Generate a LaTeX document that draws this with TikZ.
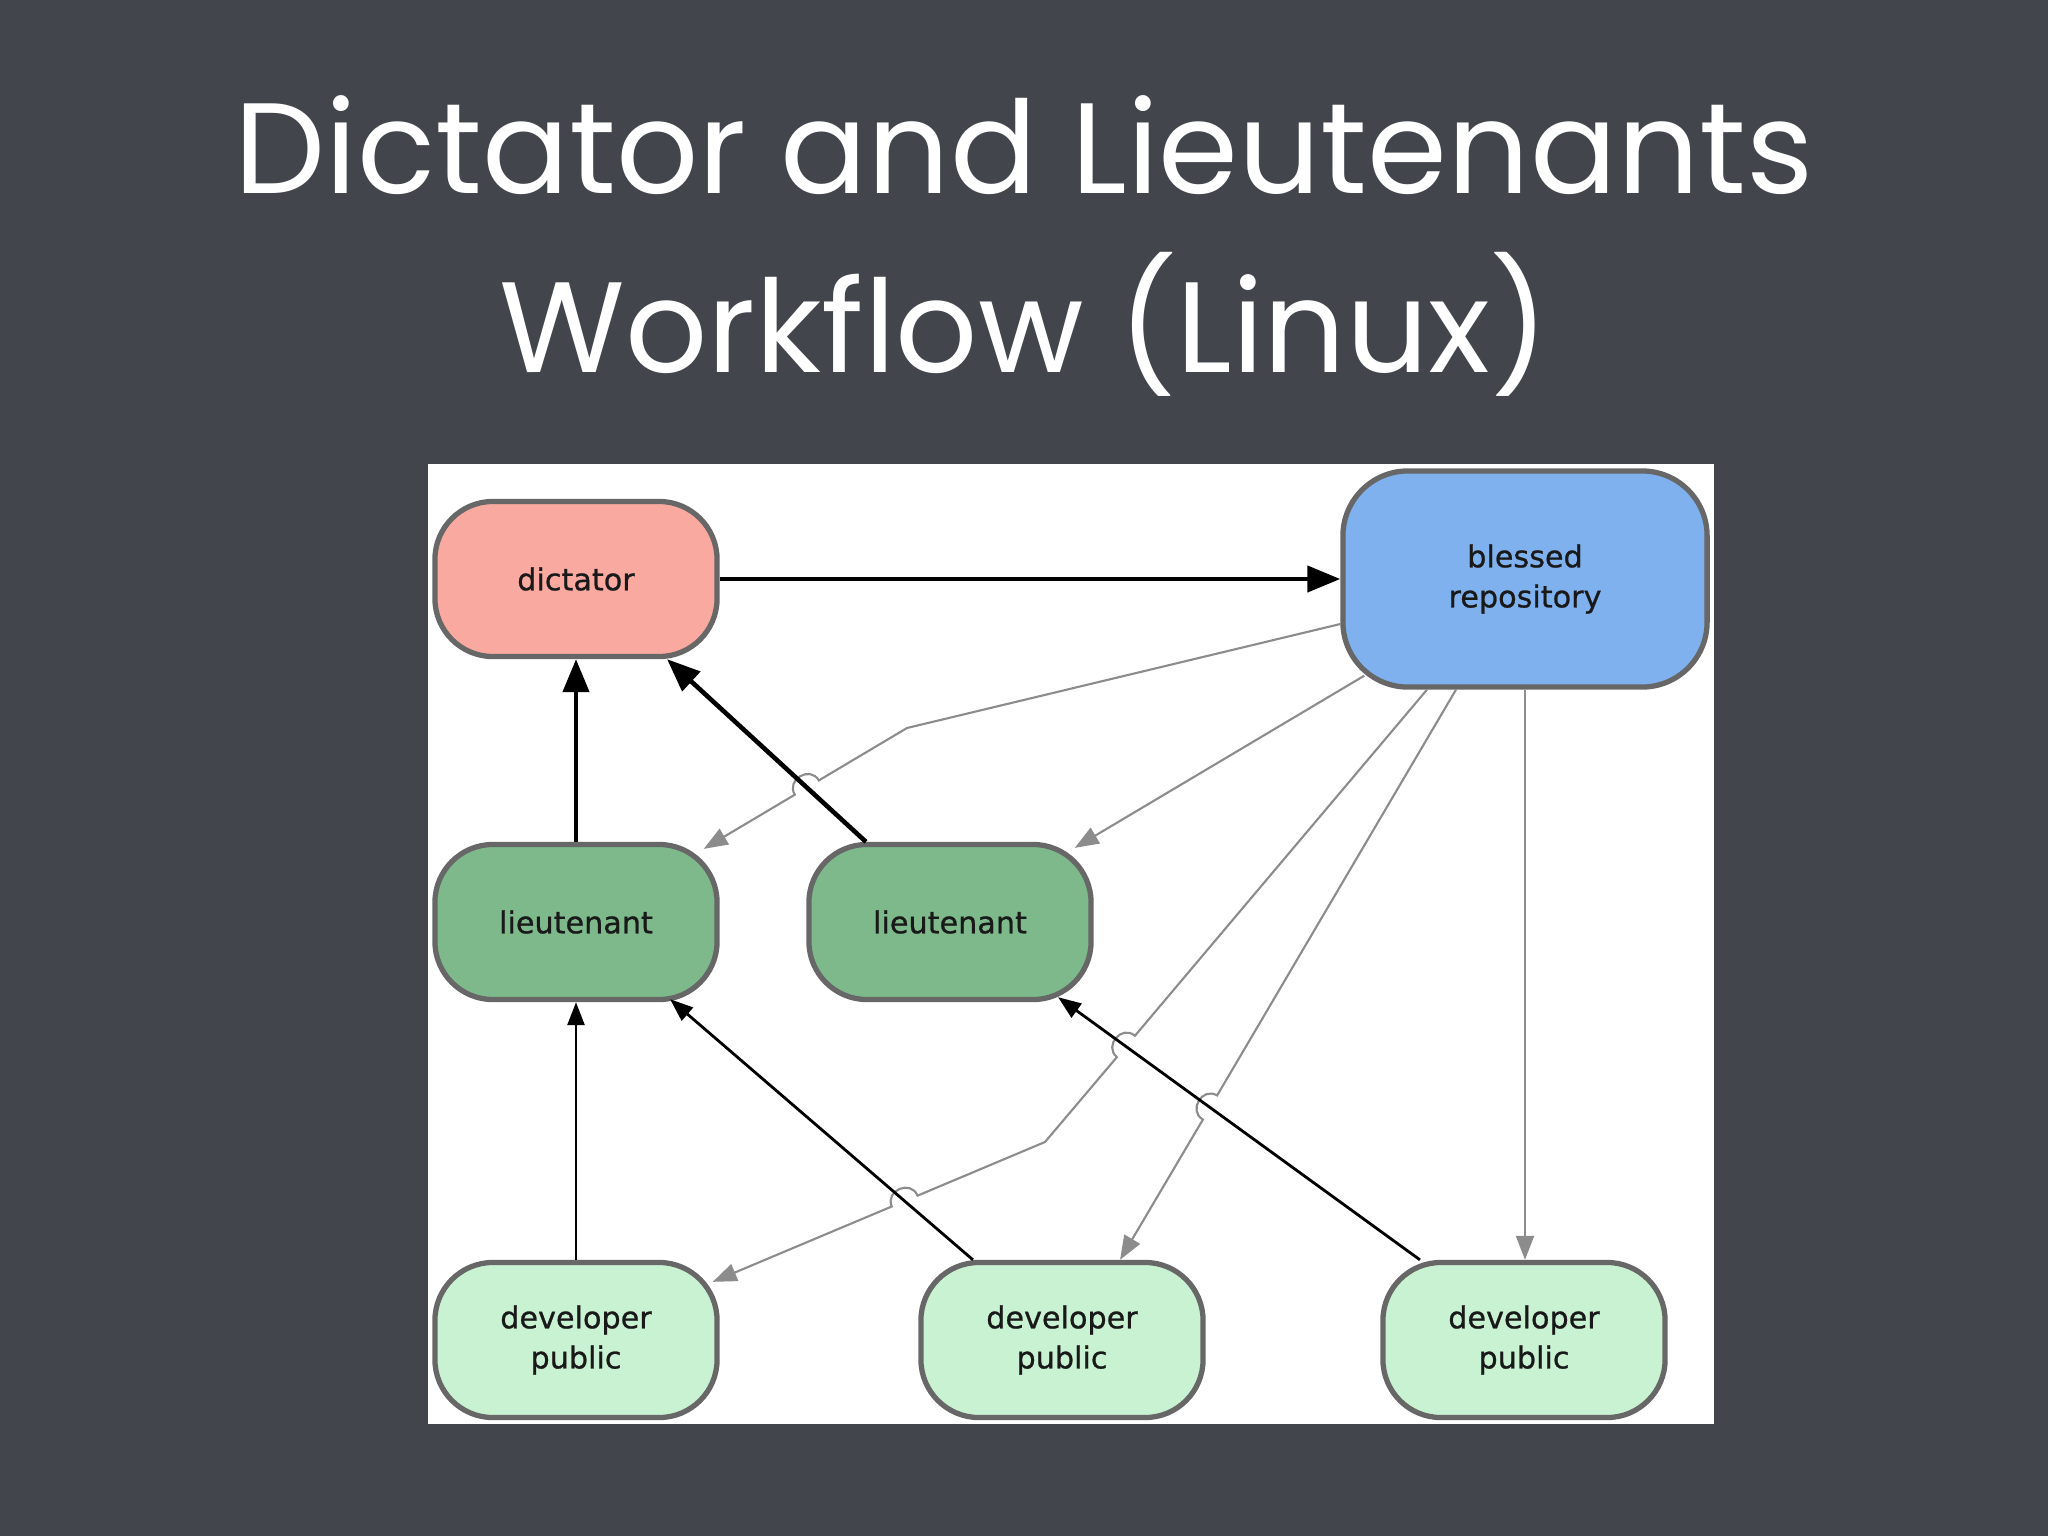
\documentclass[tikz,border=0pt]{standalone}
\usepackage{fontspec}
\setmainfont{DejaVu Sans}
\newfontfamily\repofont[FakeBold=0.8]{DejaVu Sans}
\newfontfamily\chalkfont{Poppins}
\usetikzlibrary{calc,arrows.meta}

\definecolor{board}{HTML}{42454C}
\definecolor{dictfill}{HTML}{F9A99F}
\definecolor{blessfill}{HTML}{7FB1EE}
\definecolor{ltfill}{HTML}{7DB98B}
\definecolor{devfill}{HTML}{C9F2D3}
\definecolor{rim}{HTML}{676767}
\definecolor{thread}{HTML}{8C8C8C}

\tikzset{
  repo/.style={draw=rim, line width=1.5pt, rounded corners=0.58cm,
    minimum width=2.82cm, minimum height=1.55cm, align=center,
    font=\repofont\fontsize{8.6}{11.4}\selectfont, text=black!90},
  push/.style={line width=1.3pt, -{Triangle[length=0.33cm,width=0.26cm]}},
  pull/.style={line width=0.8pt, -{Triangle[length=0.23cm,width=0.17cm]}},
  fetch/.style={draw=thread, line width=0.6pt,
    -{Triangle[length=0.24cm,width=0.18cm]}},
  hop/.style={bend right=90, looseness=1.6},
  slidetitle/.style={text=white, anchor=base, font=\chalkfont\fontsize{36.6}{40}\selectfont},
}

\begin{document}
\begin{tikzpicture}[x=0.01cm, y=-0.01cm]
  \useasboundingbox (0,0) rectangle (2048,1536);
  \fill[board] (0,0) rectangle (2048,1536);
  \fill[white] (428,464) rectangle (1714,1424);

  %title
  \node[slidetitle] (title1) at (1024,193) {Dictator and Lieutenants};
  \node[slidetitle] (title2) at (1024,372) {Workflow (Linux)};

  %repositories
  \node[repo, fill=dictfill] (dict) at (576,579) {dictator};
  \node[repo, fill=blessfill, minimum width=3.64cm, minimum height=2.16cm,
    rounded corners=0.65cm] (bless) at (1525,579) {blessed\\repository};
  \node[repo, fill=ltfill] (lt1) at (576,922) {lieutenant};
  \node[repo, fill=ltfill] (lt2) at (950,922) {lieutenant};
  \node[repo, fill=devfill] (dev1) at (576,1340) {developer\\public};
  \node[repo, fill=devfill] (dev2) at (1062,1340) {developer\\public};
  \node[repo, fill=devfill] (dev3) at (1524,1340) {developer\\public};

  %ends of the black lines
  \coordinate (lt2Top) at ([xshift=-0.84cm]lt2.north);
  \coordinate (dictFoot) at ([xshift=0.91cm]dict.south);
  \coordinate (dev2Top) at ([xshift=-0.89cm]dev2.north);
  \coordinate (lt1Foot) at ([xshift=0.94cm,yshift=0.03cm]lt1.south);
  \coordinate (dev3Top) at ([xshift=-1.04cm]dev3.north);
  \coordinate (lt2Foot) at ([xshift=1.08cm,yshift=0.05cm]lt2.south);

  %ends of the grey lines
  \coordinate (blessW) at ([yshift=-0.45cm]bless.west);
  \coordinate (kink1) at (907,728);
  \coordinate (lt1Corner) at ([xshift=-0.16cm,yshift=-0.07cm]lt1.north east);
  \coordinate (blessSW) at ([xshift=0.24cm,yshift=0.14cm]bless.south west);
  \coordinate (lt2Corner) at ([xshift=-0.19cm,yshift=-0.06cm]lt2.north east);
  \coordinate (blessS1) at ([xshift=-0.98cm]bless.south);
  \coordinate (kink3) at (1045,1142);
  \coordinate (dev1Corner) at ([xshift=-0.07cm,yshift=-0.22cm]dev1.north east);
  \coordinate (blessS2) at ([xshift=-0.69cm]bless.south);
  \coordinate (dev2Head) at ([xshift=0.58cm]dev2.north);

  %crossings
  \coordinate (hop1) at (intersection of lt2Top--dictFoot and kink1--lt1Corner);
  \coordinate (hop2) at (intersection of dev3Top--lt2Foot and blessS1--kink3);
  \coordinate (hop3) at (intersection of dev2Top--lt1Foot and kink3--dev1Corner);
  \coordinate (hop4) at (intersection of dev3Top--lt2Foot and blessS2--dev2Head);

  %grey
  \draw[fetch] (blessW) -- (kink1) -- ($(hop1)!0.14cm!(kink1)$)
    to[hop] ($(hop1)!0.14cm!(lt1Corner)$) -- (lt1Corner);
  \draw[fetch] (blessSW) -- (lt2Corner);
  \draw[fetch] (blessS1) -- ($(hop2)!0.14cm!(blessS1)$)
    to[hop] ($(hop2)!0.14cm!(kink3)$) -- (kink3) -- ($(hop3)!0.14cm!(kink3)$)
    to[hop] ($(hop3)!0.14cm!(dev1Corner)$) -- (dev1Corner);
  \draw[fetch] (blessS2) -- ($(hop4)!0.14cm!(blessS2)$)
    to[hop] ($(hop4)!0.14cm!(dev2Head)$) -- (dev2Head);
  \draw[fetch] (bless.south) -- (bless.south |- dev3.north);

  %black
  \draw[push] (dict.east) -- (bless.west);
  \draw[push] (lt1.north) -- (dict.south);
  \draw[push] (lt2Top) -- (dictFoot);
  \draw[pull] (dev1.north) -- (lt1.south);
  \draw[pull] (dev2Top) -- (lt1Foot);
  \draw[pull] (dev3Top) -- (lt2Foot);
\end{tikzpicture}
\end{document}
